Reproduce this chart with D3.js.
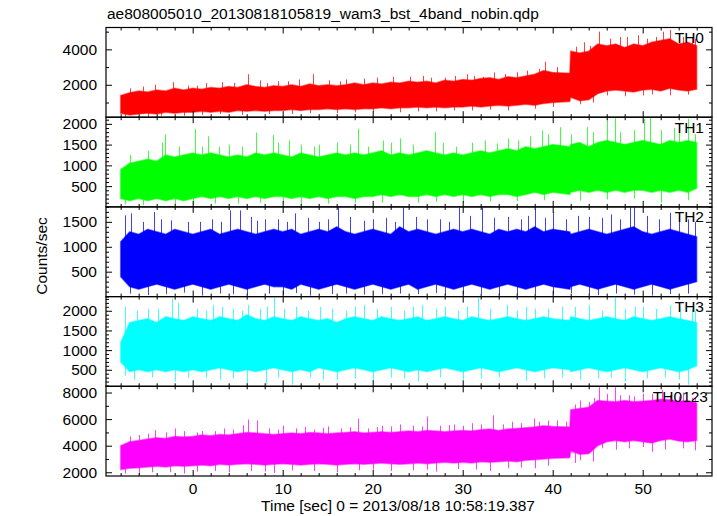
<!DOCTYPE html>
<html><head><meta charset="utf-8">
<script src="https://cdn.jsdelivr.net/npm/d3@7"></script>
<style>
body{margin:0;background:#fff}
svg{display:block}
text{font-family:"Liberation Sans",Arial,Helvetica,sans-serif;fill:#000}
</style>
</head><body>
<svg id="c" width="717" height="516"></svg>
<script>
const title = "ae808005010_20130818105819_wam3_bst_4band_nobin.qdp";
const xLabel = "Time [sec] 0 = 2013/08/18 10:58:19.387";
const yLabel = "Counts/sec";
const bandNames = ["TH0", "TH1", "TH2", "TH3", "TH0123"];
const bandColors = ["#ff0000", "#00ff00", "#0000ff", "#00ffff", "#ff00ff"];

const times = [-8,-7,-6,-5,-4,-3,-2,-1,0,1,2,3,4,5,6,7,8,9,10,11,12,13,14,15,16,17,18,19,20,21,22,23,24,25,26,27,28,29,30,31,32,33,34,35,36,37,38,39,40,41.9,42,43,44,45,46,47,48,49,50,51,52,53,54,55,56];

// TH0 envelope (counts/sec)
const th0Hi = [1400,1550,1650,1600,1700,1650,1800,1700, 1800,1750,1850,1800,1900,1850,2000,1900,1850,1950, 1900,2000,1900,2050,1950,2000,1950,2000,2100,2000, 2100,2050,2150,2100,2200,2150,2200,2100,2250,2200, 2300,2250,2350,2400,2300,2450,2400,2500,2600,2800, 2700,2650,3900,3800,3900,4300,4200,4300,4100,4300, 4200,4400,4500,4600,4300,4400,4200];
const th0Lo = [400,300,350,400,350,450,400,450, 450,500,450,500,450,550,500,550,500,550, 550,600,550,600,600,650,600,650,600,650, 650,700,650,700,700,750,700,750,700,750, 750,800,750,800,850,800,850,900,850,950, 1000,1050,1300,1100,1150,1500,1650,1700,1650,1600, 1700,1750,1650,1800,1700,1650,1750];
const th0SpikeUp = [[-2.2,2150],[0.5,1950],[6.1,2600],[9.5,2200],[13.4,2600],[17,2300],[24.2,2450],[28,2400],[32.3,2450],[36,2700],[38.5,2900],[39.2,3300],[42.6,4150],[45.1,5000],[47.5,4700],[50.5,4600],[52.3,5000],[53.0,5100],[55.5,4700],
  [-7,1800],[-5.5,1900],[-4.2,2000],[-0.5,1950],[1.5,2100],[3.3,2150],[4.6,2100],[7.5,2250],[8.3,2100],[10.6,2200],[11.8,2300],[15.2,2250],[16.4,2200],[19,2350],[20.5,2400],[22.3,2450],[25.6,2500],[26.5,2400],[29.2,2500],[30.5,2600],[31.3,2500],[33.5,2700],[34.7,2600],[37.2,2800],[40.5,3000],[43.5,4400],[44.2,4200],[46.4,4600],[48.3,4700],[49.5,4800],[51.5,4700],[54.5,4700],[55.8,4600]];
const th0SpikeDn = [[-5,200],[-1,250],[3,350],[11,350],[20,450],[27,500],[35,550],[44.5,1000],[46,1400],[51,1450],[55,1450],
  [-7.5,150],[-3.5,250],[1,300],[5.5,300],[8.5,350],[13,400],[16,400],[18,450],[23,450],[25,500],[29,550],[31,550],[33,600],[38,650],[40,750],[43,900],[48,1350],[50,1400],[53,1400]];

// TH1
const th1Hi = [900,1050,1100,1150,1100,1250,1200,1250, 1300,1250,1300,1250,1200,1250,1200,1300,1250,1300, 1250,1200,1300,1250,1200,1250,1300,1250,1300,1250, 1300,1350,1250,1300,1250,1300,1350,1300,1250,1300, 1250,1300,1350,1300,1350,1400,1350,1450,1400,1450, 1500,1450,1500,1550,1450,1550,1600,1550,1500,1550, 1600,1550,1500,1600,1550,1600,1550];
const th1Lo = [200,150,200,150,200,150,200,150, 200,250,200,250,200,250,200,250,200,250, 250,200,250,200,250,200,250,250,200,250, 250,300,250,300,250,250,300,250,300,250, 300,250,300,250,300,300,250,300,350,300, 350,300,350,400,350,400,350,400,350,400, 400,350,400,350,400,350,450];
const th1SpikeUp = [[-3.4,1550],[-3.1,1750],[0.3,1880],[1.7,1700],[2.9,1450],[7.0,1790],[8.9,1730],[10.7,1600],[14,1500],[18.4,1880],[21.2,1600],[23.0,1650],[26.9,1800],[29.3,1450],[33.8,1530],[38.8,1840],[40.8,1920],[43.8,1920],[46.0,2120],[46.9,2160],[50.1,2120],[50.8,2160],[53.5,1900],[55.0,2120],
  [-7,1250],[-5,1350],[-1.5,1450],[1,1450],[4,1500],[5.5,1450],[9.5,1550],[12,1500],[13.5,1450],[16,1550],[17.5,1500],[19.5,1450],[22,1550],[24.5,1500],[27.8,1550],[31,1550],[32.5,1600],[35,1650],[36.2,1600],[37.5,1700],[39.5,1750],[42,1750],[44.5,1800],[47.5,1800],[49,1850],[52,1850],[54,1800],[55.8,1750]];
const th1SpikeDn = [[-5.5,40],[0,60],[5,80],[12,60],[25,100],[30,90],[43,150],[52,100],
  [-7.5,60],[-2,60],[2.5,80],[7.5,100],[10,90],[15,80],[18,100],[21,100],[27,120],[33,130],[36,140],[39,160],[46,180],[49,200],[55,160]];

// TH2
const th2Hi = [1100,1300,1250,1350,1300,1250,1350,1300, 1250,1300,1350,1250,1300,1350,1300,1250,1300,1350, 1300,1350,1250,1300,1350,1300,1400,1300,1250,1300, 1350,1300,1250,1400,1300,1350,1300,1250,1300,1350, 1300,1350,1300,1250,1350,1300,1350,1300,1400,1300, 1350,1300,1250,1300,1350,1300,1250,1300,1350,1400, 1300,1250,1300,1350,1300,1250,1200];
const th2Lo = [400,200,150,200,250,200,150,200, 250,200,150,200,250,200,150,200,250,200, 200,150,250,200,150,200,250,200,150,200, 250,200,150,200,250,150,200,250,200,150, 200,250,200,150,200,250,200,150,200,250, 200,150,200,250,200,150,200,250,200,150, 200,250,200,150,200,250,300];
const th2SpikeUp = [[-7.5,1630],[-6.9,1670],[-4.3,1700],[-2.4,1530],[0.8,1500],[4.1,1730],[5.3,1730],[8,1550],[11.4,1670],[14,1500],[16.2,1800],[20,1550],[23.4,1790],[26,1550],[29.6,1790],[32.1,1790],[35,1600],[38,1750],[40,1700],[44,1600],[46.5,1650],[48.6,1790],[49,1790],[53,1680],[55,1550],
  [-5.5,1500],[-3.5,1550],[-0.5,1500],[2.2,1550],[3.2,1500],[6.5,1600],[7.2,1520],[9.5,1550],[10.5,1500],[12.8,1580],[15,1550],[17.5,1600],[19,1520],[21.5,1580],[22.5,1500],[24.8,1600],[27.5,1550],[28.5,1500],[30.8,1620],[33.5,1580],[36.5,1550],[37.3,1620],[39.2,1580],[41.5,1550],[42.8,1620],[45.5,1580],[47.5,1550],[50.5,1620],[51.8,1550],[54,1600],[55.8,1500]];
const th2SpikeDn = [[-5,30],[1,20],[6,40],[13,20],[21,50],[28,30],[36,40],[45,30],[51,20],
  [-7,60],[-3,50],[-1,80],[3,60],[4.5,50],[8.5,60],[10,40],[11.5,70],[15.5,50],[17,60],[19,40],[23,60],[25,50],[27,70],[30,50],[32,60],[34,40],[38,60],[40,50],[42,70],[44,50],[47,60],[49,40],[53,50],[55,60]];

// TH3
const th3Hi = [1200,1700,1750,1800,1700,1850,1800,1750, 1850,1800,1750,1850,1800,1750,1900,1800,1750,1850, 1800,1750,1850,1800,1750,1800,1700,1800,1850,1800, 1750,1850,1800,1750,1800,1850,1750,1800,1850,1800, 1750,1850,1800,1750,1800,1850,1800,1750,1800,1850, 1800,1750,1850,1800,1750,1800,1850,1800,1750,1850, 1800,1750,1800,1850,1800,1750,1700];
const th3Lo = [700,450,500,450,500,450,500,450, 500,450,500,550,500,450,500,450,500,550, 500,450,500,450,550,500,450,500,550,500, 450,500,550,500,450,500,450,500,550,500, 450,500,550,500,450,500,550,500,450,500, 550,500,450,500,550,500,450,500,550,500, 450,500,550,500,450,500,600];
const th3SpikeUp = [[-7.5,2100],[-5,2050],[-2.3,2310],[-1.6,2200],[2.3,2150],[4.5,2050],[6.2,2150],[9,2350],[11.5,2100],[14.1,2100],[17,2000],[19,2150],[22,2100],[25.5,2150],[28,2100],[31.7,2350],[34.9,2150],[38,2050],[41,2100],[44,2150],[46.9,2350],[50,2100],[53,2150],[55.5,2050],
  [-6.2,2000],[-3.8,2050],[0.5,2050],[1.5,2000],[3.3,2100],[5.5,2000],[7.5,2050],[8.3,2100],[10.2,2050],[12.8,2000],[15.5,2050],[18,2100],[20.5,2050],[23.5,2000],[24.5,2100],[27,2050],[29.5,2000],[30.5,2100],[33,2050],[36,2000],[37,2100],[39.5,2050],[42.5,2100],[45.5,2000],[48,2050],[49.2,2100],[51.5,2050],[54.2,2100],[55.8,2000]];
const th3SpikeDn = [[-6.5,250],[-2,200],[3,250],[6,120],[8.2,120],[11,120],[16,250],[20,200],[25,200],[30,250],[37,220],[43,250],[48,200],[55,120],
  [-7.5,350],[-4.5,300],[-0.5,300],[1.5,300],[4.5,280],[9.5,300],[13,300],[14.5,250],[18,280],[22,300],[23.5,280],[27.5,300],[32,280],[34,300],[39,280],[41,300],[45,280],[46.5,300],[50.5,280],[52.5,300],[54,250]];

// TH0123
const th4Hi = [4000,4300,4400,4500,4600,4550,4700,4650, 4700,4800,4750,4850,4800,4900,5000,4950,4900,4850, 4900,4950,4900,5000,4950,4900,4950,5000,5050,4950, 5000,5050,5000,5050,5100,5050,5150,5100,5050,5100, 5150,5100,5200,5250,5150,5250,5300,5350,5400,5500, 5450,5400,6700,6800,6900,7400,7350,7300,7400,7300, 7350,7400,7500,7450,7350,7400,7200];
const th4Lo = [2200,2300,2350,2400,2450,2400,2500,2450, 2500,2550,2500,2600,2550,2600,2650,2600,2550,2600, 2650,2600,2550,2600,2650,2600,2550,2600,2650,2600, 2650,2700,2650,2600,2650,2700,2650,2700,2750,2700, 2750,2700,2800,2750,2800,2850,2800,2900,2950,3000, 3050,3100,3600,3350,3400,4000,4300,4400,4300,4400, 4300,4200,4400,4500,4350,4300,4400];
const th4SpikeUp = [[-4.2,5170],[-2,5300],[1,5100],[3.5,5300],[5.6,5540],[6.2,5970],[7.1,5900],[10,5500],[12.5,5400],[15,5450],[18.4,6040],[21,5500],[23,5600],[26,6200],[29,5600],[31,5700],[33.4,6290],[35.5,5800],[37.9,6050],[39.5,5900],[42.5,7100],[44,7300],[45.1,8410],[46.9,8410],[48.5,7800],[50,7900],[52.1,8200],[54,7700],[55.5,7600],
  [-7,4700],[-6,4800],[-5,4900],[-3,5000],[-1,5100],[0.5,5000],[2.5,5100],[4.5,5200],[8.5,5300],[9.5,5200],[11.5,5300],[13.5,5200],[14.5,5350],[16.5,5300],[17.5,5400],[19.5,5300],[20.5,5400],[22,5450],[24.5,5500],[25.5,5450],[27.5,5500],[28.5,5550],[30,5500],[32,5600],[34.5,5600],[36.5,5700],[38.5,5800],[40.5,5900],[41.5,5800],[43,7400],[44.6,7600],[46,7900],[47.5,7800],[49,7700],[51,7900],[53,7800],[54.5,8000],[55.8,7600]];
const th4SpikeDn = [[-6,1800],[-1,1900],[4,2000],[9,1950],[16,2000],[22,2100],[27,2050],[33,2100],[38,2300],[43,2900],[44.5,2800],[47,3700],[51,3550],[55.8,3650],
  [-7.5,1900],[-4.5,2000],[-2.5,2000],[0.5,2050],[2.5,2100],[6.5,2100],[8,2050],[11,2150],[13.5,2100],[18.5,2150],[20,2200],[24.5,2150],[26,2200],[29.5,2250],[31.5,2200],[35,2300],[36.5,2350],[39.5,2500],[42.5,2700],[45.5,3800],[48.5,3800],[50,3900],[52.5,3700],[54.5,3800]];

const hiSeries = [th0Hi, th1Hi, th2Hi, th3Hi, th4Hi];
const loSeries = [th0Lo, th1Lo, th2Lo, th3Lo, th4Lo];
const spikeUpSeries = [th0SpikeUp, th1SpikeUp, th2SpikeUp, th3SpikeUp, th4SpikeUp];
const spikeDnSeries = [th0SpikeDn, th1SpikeDn, th2SpikeDn, th3SpikeDn, th4SpikeDn];

const yDomains = [[170,5235],[0,2160],[0,1800],[80,2360],[1720,8470]];
const yMajorTicks = [[2000,4000],[500,1000,1500,2000],[500,1000,1500],[500,1000,1500,2000],[2000,4000,6000,8000]];
const yMinorStep = [1000,100,100,100,1000];
const xDomain = [-9.63, 57.7];
const xMajorTicks = [0,10,20,30,40,50];
const xMinorStep = 2;

// ---- layout ----
const pLeft = 106, pRight = 712, pTop = 27.5, pBottom = 476;
const nP = 5, ph = (pBottom - pTop) / nP;
const FS = 15.5;

const svg = d3.select("#c");
const x = d3.scaleLinear().domain(xDomain).range([pLeft, pRight]);
const xMinor = d3.range(Math.ceil(xDomain[0]/xMinorStep)*xMinorStep, xDomain[1], xMinorStep).filter(v => !xMajorTicks.includes(v));

svg.append("text").attr("x", 107).attr("y", 19).attr("font-size", FS).text(title);

const defs = svg.append("defs");

for (let i = 0; i < nP; i++) {
  const y0 = pTop + i*ph, y1 = pTop + (i+1)*ph;
  const y = d3.scaleLinear().domain(yDomains[i]).range([y1, y0]);
  const data = times.map((t, k) => ({t, hi: hiSeries[i][k], lo: loSeries[i][k]}));
  const clipId = "clip" + i;
  defs.append("clipPath").attr("id", clipId).append("rect")
    .attr("x", pLeft).attr("y", y0).attr("width", pRight-pLeft).attr("height", ph);
  const g = svg.append("g").attr("clip-path", `url(#${clipId})`);
  const col = bandColors[i];
  const area = d3.area().x(d => x(d.t)).y0(d => y(d.lo)).y1(d => y(d.hi));
  const mid = t => {
    const k = d3.minIndex(times, tt => Math.abs(tt - t));
    return (hiSeries[i][k] + loSeries[i][k]) / 2;
  };
  g.selectAll(null).data(spikeUpSeries[i].concat(spikeDnSeries[i])).join("line")
    .attr("x1", d => Math.round(x(d[0])) + 0.5).attr("x2", d => Math.round(x(d[0])) + 0.5)
    .attr("y1", d => y(mid(d[0]))).attr("y2", d => y(d[1]))
    .attr("stroke", col).attr("stroke-width", 1).attr("stroke-opacity", 0.75);
  g.append("path").datum(data).attr("d", area).attr("fill", col).attr("stroke", col).attr("stroke-width", 1.5).attr("stroke-opacity", 0.5);

  const minor = d3.range(Math.ceil(yDomains[i][0]/yMinorStep[i])*yMinorStep[i], yDomains[i][1], yMinorStep[i]).filter(v => !yMajorTicks[i].includes(v));
  const axL = svg.append("g").attr("transform", `translate(${pLeft},0)`)
    .call(d3.axisLeft(y).tickValues(yMajorTicks[i]).tickSizeInner(-6).tickSizeOuter(0).tickPadding(9).tickFormat(d3.format("d")));
  const axLm = svg.append("g").attr("transform", `translate(${pLeft},0)`)
    .call(d3.axisLeft(y).tickValues(minor).tickSizeInner(-3).tickSizeOuter(0).tickFormat(""));
  const axR = svg.append("g").attr("transform", `translate(${pRight},0)`)
    .call(d3.axisRight(y).tickValues(yMajorTicks[i]).tickSizeInner(-6).tickSizeOuter(0).tickFormat(""));
  const axRm = svg.append("g").attr("transform", `translate(${pRight},0)`)
    .call(d3.axisRight(y).tickValues(minor).tickSizeInner(-3).tickSizeOuter(0).tickFormat(""));
  const axT = svg.append("g").attr("transform", `translate(0,${y0})`)
    .call(d3.axisTop(x).tickValues(xMajorTicks).tickSizeInner(-6).tickSizeOuter(0).tickFormat(""));
  const axTm = svg.append("g").attr("transform", `translate(0,${y0})`)
    .call(d3.axisTop(x).tickValues(xMinor).tickSizeInner(-3).tickSizeOuter(0).tickFormat(""));
  const axB = svg.append("g").attr("transform", `translate(0,${y1})`)
    .call(d3.axisBottom(x).tickValues(xMajorTicks).tickSizeInner(-6).tickSizeOuter(0).tickPadding(7)
      .tickFormat(i === nP-1 ? d3.format("d") : ""));
  const axBm = svg.append("g").attr("transform", `translate(0,${y1})`)
    .call(d3.axisBottom(x).tickValues(xMinor).tickSizeInner(-3).tickSizeOuter(0).tickFormat(""));
  [axL, axLm, axR, axRm, axT, axTm, axB, axBm].forEach(a => {
    a.select(".domain").remove();
    a.selectAll("text").attr("font-size", FS).attr("font-family", '"Liberation Sans",Arial,sans-serif').attr("fill", "#000");
    a.selectAll("line").attr("stroke", "#000");
  });

  svg.append("rect").attr("x", pLeft).attr("y", y0).attr("width", pRight-pLeft).attr("height", ph)
    .attr("fill", "none").attr("stroke", "#000").attr("stroke-width", 1.2);

  svg.append("text").attr("x", i === nP-1 ? 708 : 704).attr("y", y0 + 15.5)
    .attr("text-anchor", "end").attr("font-size", FS).text(bandNames[i]);
}

svg.append("text").attr("x", 398).attr("y", 510.5).attr("text-anchor", "middle").attr("font-size", FS).text(xLabel);
svg.append("text").attr("transform", "translate(47,256) rotate(-90)").attr("text-anchor", "middle").attr("font-size", FS).text(yLabel);
</script>
</body></html>
